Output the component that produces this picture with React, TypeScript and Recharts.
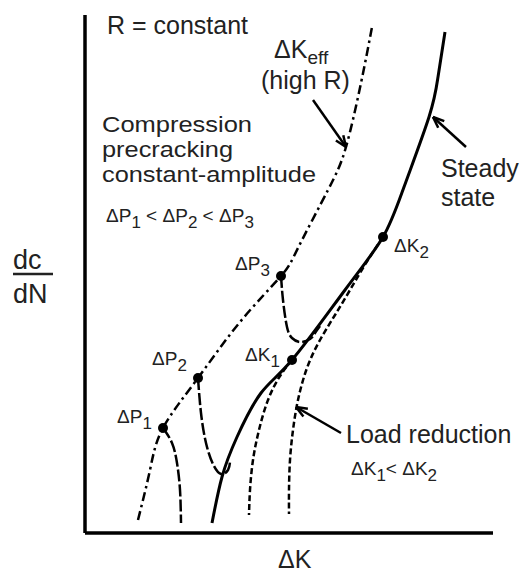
import React from 'react';
import { ComposedChart, Line, Scatter, XAxis, YAxis, ReferenceLine } from 'recharts';

// Schematic data (arbitrary units: x = ΔK, y = dc/dN)
const keffCurve = [
  { x: 53, y: 13 }, { x: 65, y: 63 }, { x: 78, y: 105 }, { x: 113, y: 155 },
  { x: 155, y: 211 }, { x: 196, y: 257 }, { x: 213, y: 285 }, { x: 243, y: 343 },
  { x: 261, y: 386 }, { x: 276, y: 450 }, { x: 287, y: 506 },
];
const steadyCurve = [
  { x: 127, y: 10 }, { x: 137, y: 56 }, { x: 152, y: 96 }, { x: 176, y: 140 },
  { x: 207, y: 173 }, { x: 260, y: 243 }, { x: 298, y: 296 }, { x: 319, y: 346 },
  { x: 344, y: 416 }, { x: 353, y: 456 }, { x: 360, y: 501 },
];
const dp1Curve = [
  { x: 78, y: 105 }, { x: 87, y: 90 }, { x: 92, y: 70 }, { x: 95, y: 43 }, { x: 96, y: 10 },
];
const dp2Curve = [
  { x: 113, y: 155 }, { x: 116, y: 120 }, { x: 121, y: 90 }, { x: 128, y: 69 },
  { x: 136, y: 59 }, { x: 143, y: 63 }, { x: 145, y: 71 },
];
const dp3Curve = [
  { x: 196, y: 257 }, { x: 198, y: 233 }, { x: 202, y: 206 }, { x: 207, y: 195 },
  { x: 215, y: 191 }, { x: 225, y: 194 }, { x: 230, y: 200 }, { x: 235, y: 207 },
];
const lrCurve1 = [
  { x: 207, y: 173 }, { x: 195, y: 157 }, { x: 183, y: 133 }, { x: 174, y: 103 },
  { x: 168, y: 73 }, { x: 165, y: 43 }, { x: 164, y: 18 },
];
const lrCurve2 = [
  { x: 298, y: 296 }, { x: 281, y: 270 }, { x: 265, y: 243 }, { x: 250, y: 218 },
  { x: 235, y: 193 }, { x: 222, y: 165 }, { x: 213, y: 133 }, { x: 208, y: 103 },
  { x: 205, y: 73 }, { x: 204, y: 43 }, { x: 204, y: 19 },
];
const markedPoints = [
  { x: 78, y: 105 }, { x: 113, y: 155 }, { x: 196, y: 257 },
  { x: 207, y: 173 }, { x: 298, y: 296 },
];
// arrows: [from, tip]
const arrows = [
  [{ x: 228, y: 433 }, { x: 261, y: 386 }],
  [{ x: 381, y: 386 }, { x: 348, y: 416 }],
  [{ x: 256, y: 100 }, { x: 211, y: 126 }],
];

const FONT = 'Liberation Sans, Arial, Helvetica, sans-serif';
const BIG = 25;
const MID = 21.5;
const SMALL = 19;
const SUB = 17;

function head(from: { x: number; y: number }, tip: { x: number; y: number }, side: number) {
  const dx = from.x - tip.x;
  const dy = from.y - tip.y;
  const len = Math.hypot(dx, dy);
  const ux = dx / len, uy = dy / len;
  const a = (side * 22 * Math.PI) / 180;
  const L = 12;
  return {
    x: tip.x + L * (ux * Math.cos(a) - uy * Math.sin(a)),
    y: tip.y + L * (ux * Math.sin(a) + uy * Math.cos(a)),
  };
}

function SubLabel({ x, y, main, sub, size = SMALL, subSize = SUB, dy = 6 }: any) {
  return (
    <text x={x} y={y} fontSize={size} fontFamily={FONT} fill="#222">
      <tspan>{main}</tspan>
      <tspan fontSize={subSize} dy={dy}>{sub}</tspan>
    </text>
  );
}

function Annotations() {
  const t = { fontFamily: FONT, fill: '#222' };
  return (
    <g>
      <text x={107} y={34} fontSize={BIG} {...t}>R = constant</text>
      <SubLabel x={274} y={58} main="ΔK" sub="eff" size={BIG} subSize={19} dy={6} />
      <text x={261} y={89} fontSize={BIG} {...t}>(high R)</text>
      <text x={102} y={132} fontSize={MID} textLength={150} lengthAdjust="spacingAndGlyphs" {...t}>Compression</text>
      <text x={102} y={157} fontSize={MID} textLength={131} lengthAdjust="spacingAndGlyphs" {...t}>precracking</text>
      <text x={102} y={182} fontSize={MID} textLength={214} lengthAdjust="spacingAndGlyphs" {...t}>constant-amplitude</text>
      <text x={106} y={222} fontSize={SMALL} {...t}>
        <tspan>ΔP</tspan><tspan fontSize={SUB} dy={6}>1</tspan>
        <tspan dy={-6}> &lt; ΔP</tspan><tspan fontSize={SUB} dy={6}>2</tspan>
        <tspan dy={-6}> &lt; ΔP</tspan><tspan fontSize={SUB} dy={6}>3</tspan>
      </text>
      <SubLabel x={235} y={270} main="ΔP" sub="3" />
      <SubLabel x={152} y={365} main="ΔP" sub="2" />
      <SubLabel x={117} y={423} main="ΔP" sub="1" />
      <SubLabel x={245} y={361} main="ΔK" sub="1" />
      <SubLabel x={394} y={252} main="ΔK" sub="2" />
      <text x={441} y={177} fontSize={BIG} {...t}>Steady</text>
      <text x={441} y={206} fontSize={BIG} {...t}>state</text>
      <text x={346} y={443} fontSize={BIG} {...t}>Load reduction</text>
      <text x={351} y={475} fontSize={SMALL} {...t}>
        <tspan>ΔK</tspan><tspan fontSize={SUB} dy={6}>1</tspan>
        <tspan dy={-6}>&lt; ΔK</tspan><tspan fontSize={SUB} dy={6}>2</tspan>
      </text>
      <text x={278} y={568} fontSize={25} {...t}>ΔK</text>
      <text x={13} y={269} fontSize={27} {...t}>dc</text>
      <line x1={13} x2={53} y1={274} y2={274} stroke="#222" strokeWidth={2.5} />
      <text x={13} y={303} fontSize={27} {...t}>dN</text>
    </g>
  );
}

export default function App() {
  const lineCommon = {
    dataKey: 'y',
    type: 'natural' as const,
    stroke: '#000',
    dot: false,
    activeDot: false,
    isAnimationActive: false,
  };
  return (
    <div style={{ position: 'absolute', left: 0, top: 0, width: 522, height: 575, background: '#fff' }}>
      <ComposedChart width={522} height={575} margin={{ left: 85, right: 29, top: 15, bottom: 42 }}>
        <XAxis type="number" dataKey="x" domain={[0, 408]} allowDataOverflow hide />
        <YAxis type="number" dataKey="y" domain={[0, 518]} allowDataOverflow hide />
        <ReferenceLine x={0} stroke="#000" strokeWidth={3.5} ifOverflow="visible" />
        <ReferenceLine y={0} stroke="#000" strokeWidth={3.5} ifOverflow="visible" />
        <Line {...lineCommon} data={keffCurve} strokeWidth={2.5} strokeDasharray="9 4 2.5 4" />
        <Line {...lineCommon} data={dp1Curve} strokeWidth={2.5} strokeDasharray="12 3" />
        <Line {...lineCommon} data={dp2Curve} strokeWidth={2.5} strokeDasharray="12 3" />
        <Line {...lineCommon} data={dp3Curve} strokeWidth={2.5} strokeDasharray="12 3" />
        <Line {...lineCommon} data={lrCurve1} strokeWidth={2.5} strokeDasharray="6 3" />
        <Line {...lineCommon} data={lrCurve2} strokeWidth={2.5} strokeDasharray="6 3" />
        <Line {...lineCommon} data={steadyCurve} strokeWidth={3} />
        <Scatter data={markedPoints} isAnimationActive={false}
          shape={(p: any) => <circle cx={p.cx} cy={p.cy} r={5} fill="#000" />} />
        {arrows.map((a, i) => (
          <ReferenceLine key={'s' + i} segment={a} stroke="#000" strokeWidth={2.5} ifOverflow="visible" />
        ))}
        {arrows.map((a, i) => (
          <ReferenceLine key={'h1' + i} segment={[a[1], head(a[0], a[1], 1)]} stroke="#000" strokeWidth={2.5} ifOverflow="visible" />
        ))}
        {arrows.map((a, i) => (
          <ReferenceLine key={'h2' + i} segment={[a[1], head(a[0], a[1], -1)]} stroke="#000" strokeWidth={2.5} ifOverflow="visible" />
        ))}
        <Annotations />
      </ComposedChart>
    </div>
  );
}
